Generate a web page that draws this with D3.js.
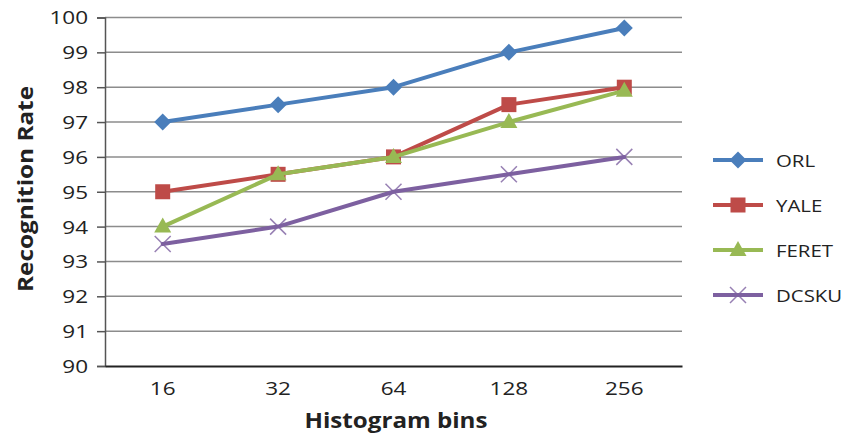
<!DOCTYPE html>
<html><head><meta charset="utf-8">
<script src="https://cdn.jsdelivr.net/npm/d3@7"></script>
<style>body{margin:0;background:#fff}svg{display:block}text{font-family:"Open Sans",sans-serif}</style>
</head><body><svg id="c" width="856" height="437"></svg>
<script>
const categories = ["16","32","64","128","256"];
const yTicks = [90,91,92,93,94,95,96,97,98,99,100];
const seriesNames = ["ORL","YALE","FERET","DCSKU"];
const orl   = [97, 97.5, 98, 99, 99.7];
const yale  = [95, 95.5, 96, 97.5, 98];
const feret = [94, 95.5, 96, 97, 97.9];
const dcsku = [93.5, 94, 95, 95.5, 96];
const colors = ["#4a7ebb","#be4b48","#98b954","#7d60a0"];
const markers = ["diamond","square","triangle","x"];
const data = [orl, yale, feret, dcsku];

const svg = d3.select("#c");
const L=105, R=682, T=17.5, B=366;
const SX = 1.25;
const x = d3.scaleBand().domain(categories).range([L,R]);
const y = d3.scaleLinear().domain([90,100]).range([B,T]);

// gridlines
svg.append("g").selectAll("line").data(yTicks.filter(d=>d>90)).join("line")
  .attr("x1",L).attr("x2",R).attr("y1",d=>y(d)).attr("y2",d=>y(d))
  .attr("stroke","#8c8c8c").attr("stroke-width",1.5);

// y axis
const ya = svg.append("g").attr("transform",`translate(${L},0)`)
  .call(d3.axisLeft(y).tickValues(yTicks).tickSize(8).tickPadding(8).tickFormat(d3.format("d")));
ya.select(".domain").attr("stroke","#555").attr("stroke-width",1.5);
ya.selectAll(".tick line").attr("stroke","#555").attr("stroke-width",1.5);
ya.selectAll("text").attr("font-size",18).attr("fill","#222")
  .attr("x",-17/SX).attr("dy","0.36em").attr("transform",`scale(${SX},1)`);

// x axis
const xa = svg.append("g").attr("transform",`translate(0,${B})`)
  .call(d3.axisBottom(x).tickSize(0).tickPadding(16));
xa.select(".domain").attr("stroke","#222").attr("stroke-width",2);
xa.selectAll("text").attr("font-size",18).attr("fill","#222").attr("transform",`scale(${SX},1)`);

// titles
svg.append("text").attr("x",396).attr("y",428).attr("text-anchor","middle")
  .attr("font-size",22).attr("font-weight","bold").attr("fill","#222")
  .attr("textLength",183).attr("lengthAdjust","spacingAndGlyphs").text("Histogram bins");
svg.append("text").attr("transform","translate(33,189) rotate(-90)").attr("text-anchor","middle")
  .attr("font-size",22).attr("font-weight","bold").attr("fill","#222")
  .attr("textLength",206).attr("lengthAdjust","spacingAndGlyphs").text("Recognition Rate");

function drawMarker(g, type, color, cx, cy){
  if(type==="diamond"){
    g.append("path").attr("d",`M${cx},${cy-8.5}L${cx+8.5},${cy}L${cx},${cy+8.5}L${cx-8.5},${cy}Z`).attr("fill",color);
  } else if(type==="square"){
    g.append("rect").attr("x",cx-7.5).attr("y",cy-7.5).attr("width",15).attr("height",15).attr("fill",color);
  } else if(type==="triangle"){
    g.append("path").attr("d",`M${cx},${cy-9}L${cx+8.5},${cy+6}L${cx-8.5},${cy+6}Z`).attr("fill",color);
  } else {
    g.append("path").attr("d",`M${cx-8},${cy-8}L${cx+8},${cy+8}M${cx-8},${cy+8}L${cx+8},${cy-8}`)
      .attr("stroke",color).attr("stroke-width",1.5).attr("fill","none").attr("opacity",0.8);
  }
}

const line = d3.line().x((d,i)=>x(categories[i])+x.bandwidth()/2).y(d=>y(d));
data.forEach((s,k)=>{
  const g = svg.append("g");
  g.append("path").attr("d",line(s)).attr("fill","none").attr("stroke",colors[k])
    .attr("stroke-width",4).attr("stroke-linejoin","round").attr("stroke-linecap","round");
  s.forEach((v,i)=>drawMarker(g, markers[k], colors[k], x(categories[i])+x.bandwidth()/2, y(v)));
});

// legend
const ly0 = 160, ldy = 45;
seriesNames.forEach((n,k)=>{
  const g = svg.append("g");
  const yy = ly0 + k*ldy;
  g.append("line").attr("x1",713).attr("x2",763).attr("y1",yy).attr("y2",yy)
    .attr("stroke",colors[k]).attr("stroke-width",4);
  drawMarker(g, markers[k], colors[k], 738, yy);
  g.append("text").attr("transform",`translate(776,${yy+7}) scale(1.2,1)`)
    .attr("font-size",17).attr("fill","#222").text(n);
});
</script></body></html>
